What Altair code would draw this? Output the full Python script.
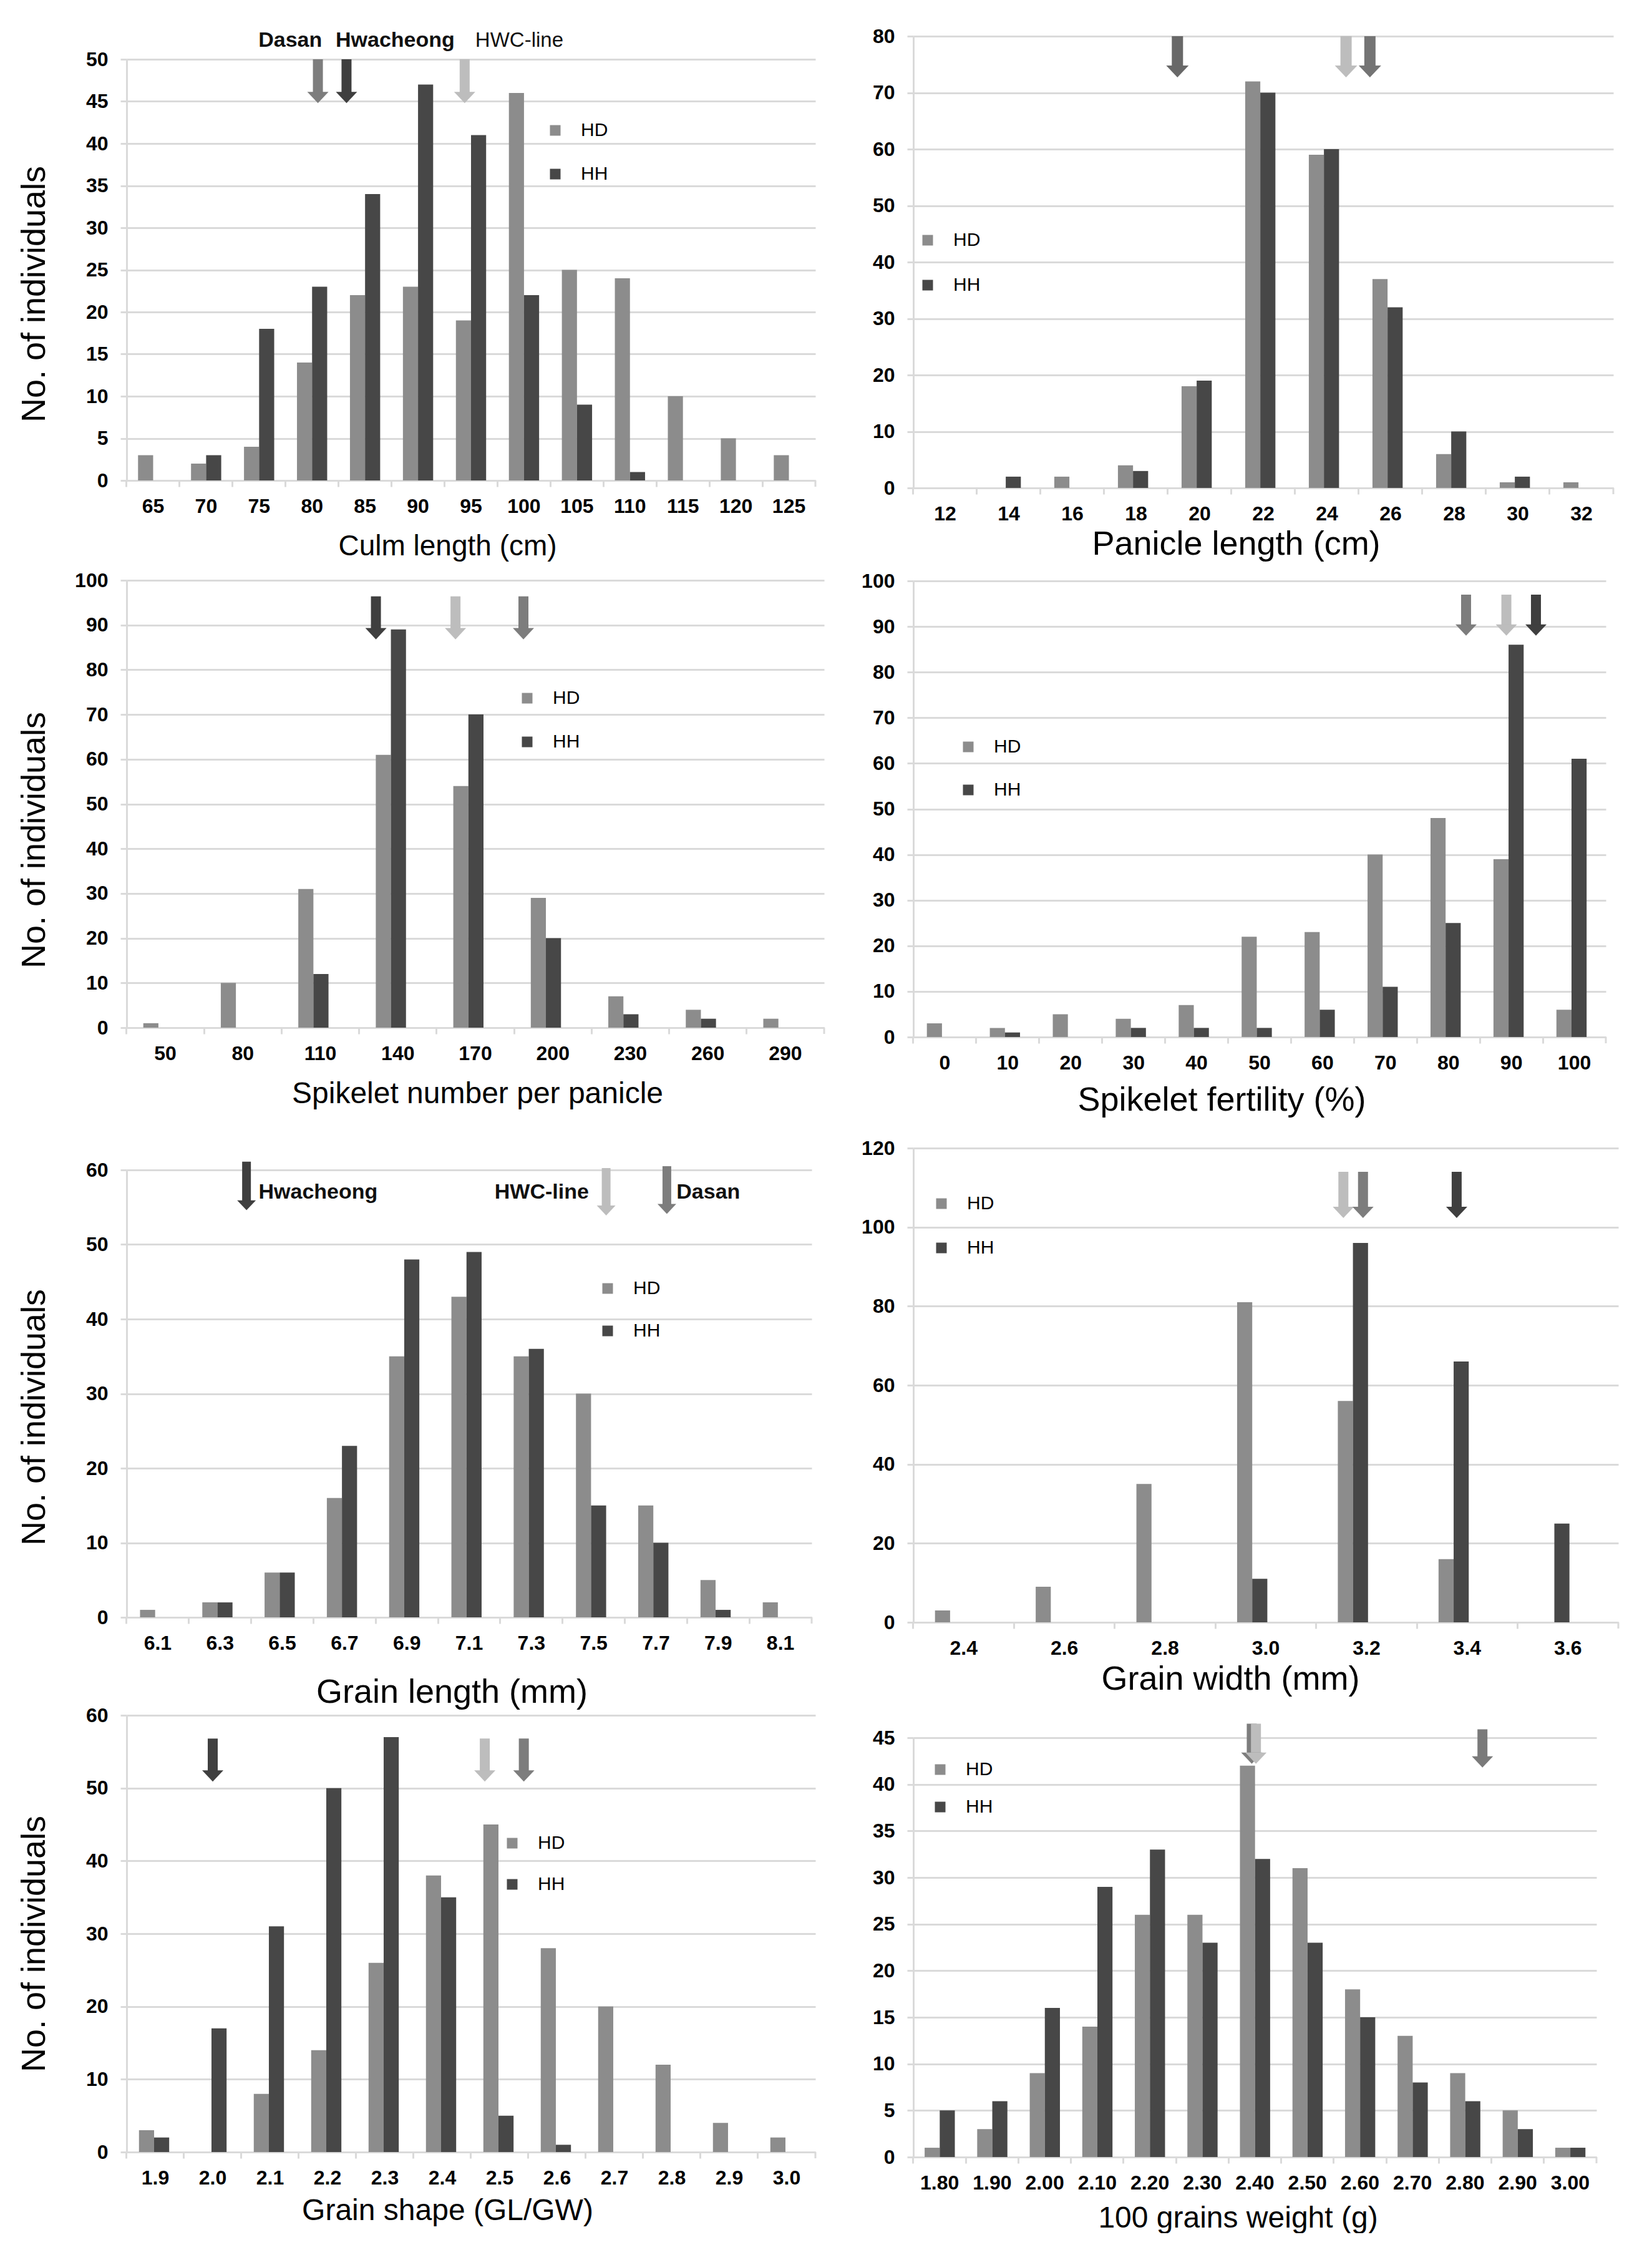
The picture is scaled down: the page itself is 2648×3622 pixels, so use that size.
import altair as alt
import pandas as pd

# ---------------- data ----------------
SERIES = ["HD", "HH"]
CULTIVARS = ["Dasan", "Hwacheong", "HWC-line"]

# Culm length
culm_cats = ["65", "70", "75", "80", "85", "90", "95", "100", "105", "110", "115", "120", "125"]
culm_hd = [3, 2, 4, 14, 22, 23, 19, 46, 25, 24, 10, 5, 3]
culm_hh = [0, 3, 18, 23, 34, 47, 41, 22, 9, 1, 0, 0, 0]
culm_yticks = [0, 5, 10, 15, 20, 25, 30, 35, 40, 45, 50]
culm_arrow_x = [80.55, 83.25, 94.4]
culm_arrow_top = [50, 50, 50]
culm_arrow_tip = [44.8, 44.8, 44.8]
culm_arrow_cult = ["Dasan", "Hwacheong", "HWC-line"]
culm_label_x = [77.94, 87.84]
culm_label_y = [52.25, 52.25]
culm_label = ["Dasan", "Hwacheong"]
culm_label2_x = [99.56]
culm_label2_y = [52.25]
culm_label2 = ["HWC-line"]

# Panicle length
pan_cats = ["12", "14", "16", "18", "20", "22", "24", "26", "28", "30", "32"]
pan_hd = [0, 0, 2, 4, 18, 72, 59, 37, 6, 1, 1]
pan_hh = [0, 2, 0, 3, 19, 70, 60, 32, 10, 2, 0]
pan_yticks = [0, 10, 20, 30, 40, 50, 60, 70, 80]
pan_arrow_x = [19.3, 24.6, 25.35]
pan_arrow_top = [80, 80, 80]
pan_arrow_tip = [72.7, 72.7, 72.7]
pan_arrow_cult = ["Hwacheong", "HWC-line", "Dasan"]

# Spikelet number per panicle
spk_cats = ["50", "80", "110", "140", "170", "200", "230", "260", "290"]
spk_hd = [1, 10, 31, 61, 54, 29, 7, 4, 2]
spk_hh = [0, 0, 12, 89, 70, 20, 3, 2, 0]
spk_yticks = [0, 10, 20, 30, 40, 50, 60, 70, 80, 90, 100]
spk_arrow_x = [131.5, 162.3, 188.6]
spk_arrow_top = [96.4, 96.4, 96.4]
spk_arrow_tip = [86.8, 86.8, 86.8]
spk_arrow_cult = ["Hwacheong", "HWC-line", "Dasan"]

# Spikelet fertility
fer_cats = ["0", "10", "20", "30", "40", "50", "60", "70", "80", "90", "100"]
fer_hd = [3, 2, 5, 4, 7, 22, 23, 40, 48, 39, 6]
fer_hh = [0, 1, 0, 2, 2, 2, 6, 11, 25, 86, 61]
fer_yticks = [0, 10, 20, 30, 40, 50, 60, 70, 80, 90, 100]
fer_arrow_x = [82.8, 89.2, 93.9]
fer_arrow_top = [97, 97, 97]
fer_arrow_tip = [88, 88, 88]
fer_arrow_cult = ["Dasan", "HWC-line", "Hwacheong"]

# Grain length
gl_cats = ["6.1", "6.3", "6.5", "6.7", "6.9", "7.1", "7.3", "7.5", "7.7", "7.9", "8.1"]
gl_hd = [1, 2, 6, 16, 35, 43, 35, 30, 15, 5, 2]
gl_hh = [0, 2, 6, 23, 48, 49, 36, 15, 10, 1, 0]
gl_yticks = [0, 10, 20, 30, 40, 50, 60]
gl_arrow_x = [6.385, 7.54, 7.735]
gl_arrow_top = [61.1, 60.25, 60.5]
gl_arrow_tip = [54.6, 53.9, 54.1]
gl_arrow_cult = ["Hwacheong", "HWC-line", "Dasan"]
gl_label_x = [6.615, 7.333, 7.868]
gl_label_y = [56.96, 56.96, 56.96]
gl_label = ["Hwacheong", "HWC-line", "Dasan"]

# Grain width
gw_cats = ["2.4", "2.6", "2.8", "3.0", "3.2", "3.4", "3.6"]
gw_hd = [3, 9, 35, 81, 56, 16, 0]
gw_hh = [0, 0, 0, 11, 96, 66, 25]
gw_yticks = [0, 20, 40, 60, 80, 100, 120]
gw_arrow_x = [3.154, 3.193, 3.379]
gw_arrow_top = [114, 114, 114]
gw_arrow_tip = [102.3, 102.3, 102.3]
gw_arrow_cult = ["HWC-line", "Dasan", "Hwacheong"]

# Grain shape
gs_cats = ["1.9", "2.0", "2.1", "2.2", "2.3", "2.4", "2.5", "2.6", "2.7", "2.8", "2.9", "3.0"]
gs_hd = [3, 0, 8, 14, 26, 38, 45, 28, 20, 12, 4, 2]
gs_hh = [2, 17, 31, 50, 57, 35, 5, 1, 0, 0, 0, 0]
gs_yticks = [0, 10, 20, 30, 40, 50, 60]
gs_arrow_x = [2.0, 2.474, 2.542]
gs_arrow_top = [56.8, 56.8, 56.8]
gs_arrow_tip = [50.9, 50.9, 50.9]
gs_arrow_cult = ["Hwacheong", "HWC-line", "Dasan"]

# 100 grains weight
gwt_cats = ["1.80", "1.90", "2.00", "2.10", "2.20", "2.30", "2.40", "2.50", "2.60", "2.70", "2.80", "2.90", "3.00"]
gwt_hd = [1, 3, 9, 14, 26, 26, 42, 31, 18, 13, 9, 5, 1]
gwt_hh = [5, 6, 16, 29, 33, 23, 32, 23, 15, 8, 6, 3, 1]
gwt_yticks = [0, 5, 10, 15, 20, 25, 30, 35, 40, 45]
gwt_arrow_x = [2.394, 2.402, 2.833]
gwt_arrow_top = [46.5, 46.5, 45.9]
gwt_arrow_tip = [42.2, 42.2, 41.8]
gwt_arrow_cult = ["Dasan", "HWC-line", "Hwacheong"]

# ---------------- style ----------------
HD_C = "#8c8c8c"
HH_C = "#474747"
GRID = "#dadada"
F = "Liberation Sans, Arial, sans-serif"
DEFAULT_PAL = ["#7d7d7d", "#3f3f3f", "#bdbdbd"]
HEAD_PATH = "M -1 -1.06 L 1 -1.06 L 0 0 Z"


def spacer(h):
    return alt.Chart(pd.DataFrame({"v": [0]})).mark_point(opacity=0).encode(
        x=alt.X("v:Q", axis=None), y=alt.Y("v:Q", axis=None)
    ).properties(width=10, height=h)


def make_panel(cats, hd, hh, yticks, width, height, xtitle, xtitle_size, title_pad, title_x,
               legend_xy, legend_gap, arrows, labels=None, labels2=None, ytitle_y=None,
               palette=None, shaft=16, head=34):
    n = len(cats)
    ymax = yticks[-1]
    df = pd.DataFrame({"cat": cats * 2, "series": ["HD"] * n + ["HH"] * n, "count": hd + hh})
    common_y = dict(values=yticks, grid=True, gridColor=GRID, gridWidth=3, domainColor=GRID,
                    domainWidth=3, tickColor=GRID, tickWidth=3, tickSize=10, labelPadding=20,
                    labelFont=F, labelFontSize=32, labelFontWeight="bold", labelColor="#000")
    if ytitle_y is not None:
        yaxis = alt.Axis(title="No. of individuals", titleFont=F, titleFontSize=54,
                         titleFontWeight="normal", titleColor="#000", titleX=-132, titleY=ytitle_y,
                         titleBaseline="alphabetic", titleAlign="center", **common_y)
    else:
        yaxis = alt.Axis(title=None, **common_y)
    xaxis = alt.Axis(title=xtitle, titleFont=F, titleFontSize=xtitle_size, titleFontWeight="normal",
                     titleColor="#000", titlePadding=title_pad, titleX=title_x, labelAngle=0,
                     labelFont=F, labelFontSize=32, labelFontWeight="bold", labelColor="#000",
                     labelPadding=16, tickSize=10, tickColor=GRID, tickWidth=3, domainColor=GRID,
                     domainWidth=3, bandPosition=-0.3772, grid=False, labelOverlap=False)
    yscale = alt.Scale(domain=[0, ymax], nice=False, zero=True)
    bars = alt.Chart(df).mark_bar().encode(
        x=alt.X("cat:N", sort=cats, scale=alt.Scale(paddingInner=0.43, paddingOuter=0.215), axis=xaxis),
        xOffset=alt.XOffset("series:N", sort=SERIES, scale=alt.Scale(paddingInner=0, paddingOuter=0)),
        y=alt.Y("count:Q", scale=yscale, axis=yaxis),
        color=alt.Color("series:N", scale=alt.Scale(domain=SERIES, range=[HD_C, HH_C]),
                        legend=alt.Legend(orient="none", legendX=legend_xy[0] - 12,
                                          legendY=legend_xy[1], title=None, symbolType="square",
                                          symbolSize=289, symbolStrokeWidth=0, labelFont=F,
                                          labelFontSize=30, labelColor="#000", labelOffset=26,
                                          rowPadding=legend_gap - 30, padding=0,
                                          direction="vertical")),
    )
    step = float(cats[1]) - float(cats[0])
    lo = float(cats[0]) - step / 2
    hi = float(cats[-1]) + step / 2
    xs = alt.Scale(domain=[lo, hi], nice=False, zero=False)
    # closing tick at the right end of the category axis
    edge = alt.Chart(pd.DataFrame({"x": [hi], "y": [0]})).mark_rule(
        color=GRID, strokeWidth=3, y2Offset=10).encode(
        x=alt.X("x:Q", scale=xs, axis=None), y=alt.Y("y:Q", scale=yscale), y2="y:Q")
    pal = palette or DEFAULT_PAL
    ax, atop, atip, acult = arrows
    adf = pd.DataFrame({"x": ax, "ytop": atop, "ytip": atip, "cult": acult})
    shaft_l = alt.Chart(adf).mark_rule(strokeWidth=shaft, strokeCap="butt", y2Offset=-10).encode(
        x=alt.X("x:Q", scale=xs, axis=None),
        y=alt.Y("ytop:Q", scale=yscale),
        y2="ytip:Q",
        stroke=alt.Stroke("cult:N", scale=alt.Scale(domain=CULTIVARS, range=pal), legend=None),
    )
    head_l = alt.Chart(adf).mark_point(shape=HEAD_PATH, size=head * head, filled=True, opacity=1,
                                       strokeWidth=0).encode(
        x=alt.X("x:Q", scale=xs, axis=None),
        y=alt.Y("ytip:Q", scale=yscale),
        fill=alt.Fill("cult:N", scale=alt.Scale(domain=CULTIVARS, range=pal), legend=None),
    )
    layers = [bars, edge, shaft_l, head_l]
    if labels is not None:
        tdf = pd.DataFrame({"x": labels[0], "y": labels[1], "t": labels[2]})
        layers.append(alt.Chart(tdf).mark_text(font=F, fontSize=34, fontWeight="bold", color="#111",
                                               align="center", baseline="middle").encode(
            x=alt.X("x:Q", scale=xs, axis=None), y=alt.Y("y:Q", scale=yscale), text="t:N"))
    if labels2 is not None:
        tdf2 = pd.DataFrame({"x": labels2[0], "y": labels2[1], "t": labels2[2]})
        layers.append(alt.Chart(tdf2).mark_text(font=F, fontSize=33, fontWeight="normal", color="#111",
                                                align="center", baseline="middle").encode(
            x=alt.X("x:Q", scale=xs, axis=None), y=alt.Y("y:Q", scale=yscale), text="t:N"))
    return alt.layer(*layers).resolve_scale(x="independent").properties(width=width, height=height)


p1 = make_panel(culm_cats, culm_hd, culm_hh, culm_yticks, 1104, 675, "Culm length (cm)", 46, 26, 514,
                (684, 99), 70, (culm_arrow_x, culm_arrow_top, culm_arrow_tip, culm_arrow_cult),
                labels=(culm_label_x, culm_label_y, culm_label),
                labels2=(culm_label2_x, culm_label2_y, culm_label2), ytitle_y=376)
p2 = make_panel(pan_cats, pan_hd, pan_hh, pan_yticks, 1122, 724, "Panicle length (cm)", 54, 6, 517,
                (20, 312), 72, (pan_arrow_x, pan_arrow_top, pan_arrow_tip, pan_arrow_cult),
                palette=["#747474", "#686868", "#bdbdbd"], shaft=18, head=36)
p3 = make_panel(spk_cats, spk_hd, spk_hh, spk_yticks, 1118, 717, "Spikelet number per panicle", 48,
                25, 562, (639, 174), 70,
                (spk_arrow_x, spk_arrow_top, spk_arrow_tip, spk_arrow_cult), ytitle_y=416)
p4 = make_panel(fer_cats, fer_hd, fer_hh, fer_yticks, 1110, 731, "Spikelet fertility (%)", 54, 17, 494,
                (85, 251), 69, (fer_arrow_x, fer_arrow_top, fer_arrow_tip, fer_arrow_cult))
p5 = make_panel(gl_cats, gl_hd, gl_hh, gl_yticks, 1098, 717, "Grain length (mm)", 54, 36, 521,
                (768, 175), 68, (gl_arrow_x, gl_arrow_top, gl_arrow_tip, gl_arrow_cult),
                labels=(gl_label_x, gl_label_y, gl_label), ytitle_y=396, shaft=14, head=30)
p6 = make_panel(gw_cats, gw_hd, gw_hh, gw_yticks, 1130, 760, "Grain width (mm)", 54, 7, 508,
                (42, 74), 71, (gw_arrow_x, gw_arrow_top, gw_arrow_tip, gw_arrow_cult))
p7 = make_panel(gs_cats, gs_hd, gs_hh, gs_yticks, 1104, 700, "Grain shape (GL/GW)", 48, 13, 514,
                (615, 190), 66, (gs_arrow_x, gs_arrow_top, gs_arrow_tip, gs_arrow_cult),
                ytitle_y=366)
p8 = make_panel(gwt_cats, gwt_hd, gwt_hh, gwt_yticks, 1095, 672, "100 grains weight (g)", 48, 17, 520,
                (40, 36), 60, (gwt_arrow_x, gwt_arrow_top, gwt_arrow_tip, gwt_arrow_cult),
                palette=["#7d7d7d", "#7a7a7a", "#bdbdbd"])

res = dict(color="independent", stroke="independent", fill="independent")

left = alt.vconcat(spacer(37), p1, spacer(160), p3, spacer(228), p5, spacer(157), p7, spacing=0,
                   bounds="flush").resolve_scale(**res).resolve_legend(color="independent")
right = alt.vconcat(p2, spacer(149), p4, spacer(178), p6, spacer(185), p8, spacing=0,
                    bounds="flush").resolve_scale(**res).resolve_legend(color="independent")

chart = alt.hconcat(left, right, spacing=57).resolve_scale(**res).resolve_legend(
    color="independent").properties(
    padding={"left": 28, "top": 42, "right": 0, "bottom": 0}, background="white"
).configure_view(strokeWidth=0)

chart.save("out.html", embed_options={"renderer": "svg", "actions": False})
